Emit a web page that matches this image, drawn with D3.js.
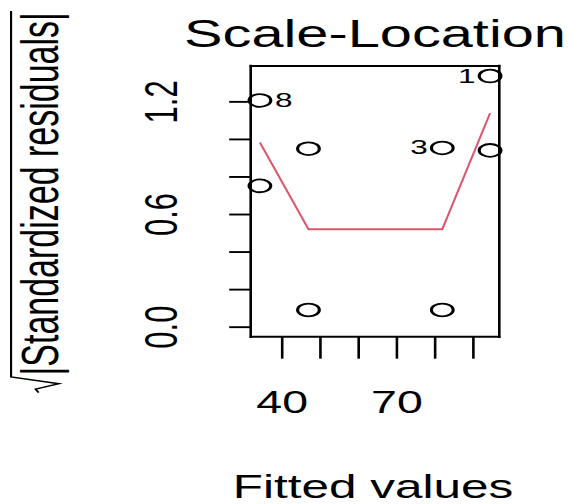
<!DOCTYPE html>
<html><head><meta charset="utf-8">
<script src="https://cdn.jsdelivr.net/npm/d3@7"></script>
<style>
html,body{margin:0;padding:0;background:#fff;}
svg{display:block;background:#fff;}
text{font-family:"Liberation Sans", Arial, Helvetica, sans-serif; fill:#000;}
</style>
</head><body><svg id="c" width="574" height="504"></svg>
<script>
// ---- data ----
const obsId = [1, 2, 3, 4, 5, 6, 7, 8];
const fittedValues = [94.5, 94.5, 82.0, 82.0, 47.0, 47.0, 34.3, 34.3];
const sqrtStdResid = [1.335, 0.939, 0.952, 0.089, 0.089, 0.948, 0.750, 1.205];
const labelledIds = [1, 3, 8];
const smoothX = [34.3, 47.0, 82.0, 94.5];
const smoothY = [0.981, 0.519, 0.519, 1.138];
const xTicks = [40, 50, 60, 70, 80, 90];
const xTickLabels = ["40", "", "", "70", "", ""];
const yTicks = [0, 0.2, 0.4, 0.6, 0.8, 1.0, 1.2];
const yTickLabels = ["0.0", "", "", "0.6", "", "", "1.2"];
const titleText = "Scale-Location";
const xLabel = "Fitted values";
const yLabel = "|Standardized residuals|";

// ---- layout ----
const box = {left: 250.7, right: 499.3, top: 66, bottom: 336.7};
const SX = 1.5;          // horizontal stretch of glyphs
const svg = d3.select("#c");

const xr = d3.extent(fittedValues), xe = 0.04 * (xr[1] - xr[0]);
const yMax = d3.max(sqrtStdResid), ye = 0.04 * yMax;
const x = d3.scaleLinear().domain([xr[0] - xe, xr[1] + xe]).range([box.left, box.right]);
const y = d3.scaleLinear().domain([0 - ye, yMax + ye]).range([box.bottom, box.top]);

// axes
const yAxis = svg.append("g").attr("transform", `translate(${box.left},0)`)
  .call(d3.axisLeft(y).tickValues(yTicks).tickSize(21.5).tickFormat((d, i) => yTickLabels[i]));
yAxis.select(".domain").remove();
yAxis.selectAll(".tick line").attr("stroke", "#000").attr("stroke-width", 1.9);
yAxis.selectAll(".tick text")
  .attr("x", null).attr("dy", null).attr("y", null)
  .attr("text-anchor", "middle")
  .attr("font-size", 31).attr("fill", "#000")
  .attr("transform", `translate(${177 - box.left},0) scale(${SX},1) rotate(-90)`);

const xAxis = svg.append("g").attr("transform", `translate(0,${box.bottom})`)
  .call(d3.axisBottom(x).tickValues(xTicks).tickSize(22).tickFormat((d, i) => xTickLabels[i]));
xAxis.select(".domain").remove();
xAxis.selectAll(".tick line").attr("stroke", "#000").attr("stroke-width", 2.6);
xAxis.selectAll(".tick text")
  .attr("y", null).attr("dy", null)
  .attr("text-anchor", "middle")
  .attr("font-size", 31).attr("fill", "#000")
  .attr("transform", `translate(0,${413 - box.bottom}) scale(${SX},1)`);

// box
const frame = svg.append("g").attr("stroke", "#000").attr("stroke-linecap", "square");
frame.append("line").attr("x1", box.left).attr("x2", box.right).attr("y1", box.top).attr("y2", box.top).attr("stroke-width", 2);
frame.append("line").attr("x1", box.left).attr("x2", box.right).attr("y1", box.bottom).attr("y2", box.bottom).attr("stroke-width", 2);
frame.append("line").attr("x1", box.left).attr("x2", box.left).attr("y1", box.top).attr("y2", box.bottom).attr("stroke-width", 2.6);
frame.append("line").attr("x1", box.right).attr("x2", box.right).attr("y1", box.top).attr("y2", box.bottom).attr("stroke-width", 2.6);

// smoother
svg.append("path")
  .datum(smoothX.map((v, i) => [v, smoothY[i]]))
  .attr("fill", "none").attr("stroke", "#DF536B").attr("stroke-width", 2)
  .attr("d", d3.line().x(d => x(d[0])).y(d => y(d[1])));

// points
svg.append("g").selectAll("circle").data(obsId).join("circle")
  .attr("r", 6.4)
  .attr("transform", (d, i) => `translate(${x(fittedValues[i])},${y(sqrtStdResid[i])}) scale(1.7,1)`)
  .attr("fill", "none").attr("stroke", "#000").attr("stroke-width", 1.8);

// point labels
const midX = (x.domain()[0] + x.domain()[1]) / 2;
svg.append("g").selectAll("text").data(labelledIds).join("text")
  .attr("font-size", 21)
  .attr("text-anchor", d => fittedValues[obsId.indexOf(d)] > midX ? "end" : "start")
  .attr("transform", d => {
    const i = obsId.indexOf(d);
    const cx = x(fittedValues[i]), cy = y(sqrtStdResid[i]);
    const px = fittedValues[i] > midX ? cx - 14.5 : cx + 15;
    return `translate(${px},${cy + 6.5}) scale(${SX},1)`;
  })
  .text(d => d);

// title
svg.append("text").attr("text-anchor", "middle").attr("font-size", 38.5)
  .attr("transform", `translate(${(box.left + box.right) / 2},47) scale(${SX},1)`)
  .text(titleText);

// x label
svg.append("text").attr("text-anchor", "middle").attr("font-size", 33)
  .attr("transform", `translate(${(box.left + box.right) / 2 - 2},498) scale(${SX},1)`)
  .text(xLabel);

// y label with radical
const fs = 34;
const yl = svg.append("g")
  .attr("transform", `translate(58,${(box.top + box.bottom) / 2 + 1}) scale(${SX},1) rotate(-90)`);
const yt = yl.append("text").attr("font-size", fs).text(yLabel);
const L = yt.node().getComputedTextLength();
const rad = 0.5 * fs;
const u0 = -(L + rad) / 2;
yt.attr("x", u0 + rad);
yl.append("path")
  .attr("fill", "none").attr("stroke", "#000").attr("stroke-width", 1.4)
  .attr("stroke-linejoin", "miter")
  .attr("d", `M${u0},${-0.38 * fs} L${u0 + 0.1 * fs},${-0.44 * fs} L${u0 + 0.26 * fs},${0.02 * fs} L${u0 + 0.46 * fs},${-0.92 * fs} L${u0 + rad + L + 0.03 * fs},${-0.92 * fs}`);
</script>
</body></html>
